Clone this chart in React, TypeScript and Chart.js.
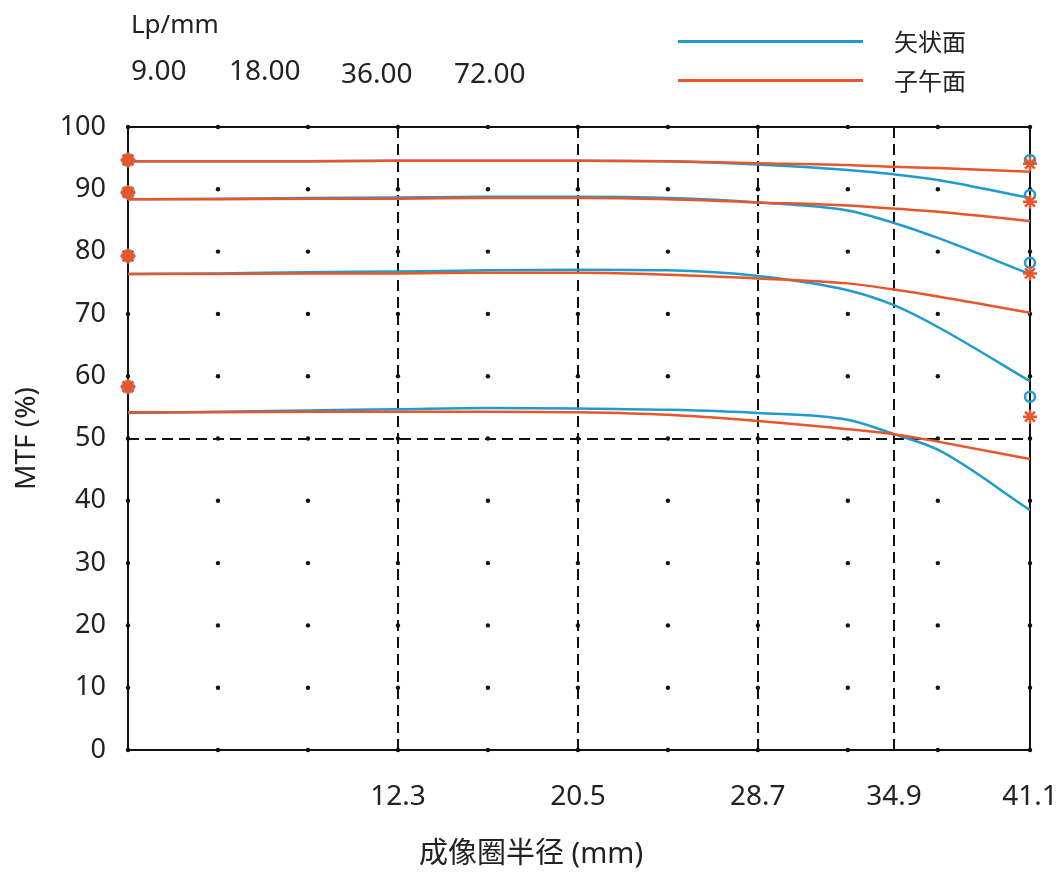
import { useEffect, useRef } from "react";
import { Chart, registerables } from "chart.js";

Chart.register(...registerables);

const FONT = '"Noto Sans", "Noto Sans CJK SC", sans-serif';
const BLUE = "#1f9bcf";   // 矢状面 (sagittal)
const ORANGE = "#e8562a"; // 子午面 (meridional)

// image-circle radius (mm) where each curve is sampled
const radiusMm = [0, 4.1, 8.2, 12.3, 16.4, 20.5, 24.6, 28.7, 32.8, 34.9, 36.9, 41.1];

// MTF (%) per frequency, sagittal / meridional
const sag9 = [94.5, 94.5, 94.5, 94.6, 94.6, 94.6, 94.5, 94.0, 93.1, 92.4, 91.5, 88.6];
const mer9 = [94.5, 94.5, 94.5, 94.6, 94.6, 94.6, 94.5, 94.2, 93.9, 93.6, 93.4, 92.8];
const sag18 = [88.4, 88.5, 88.6, 88.7, 88.8, 88.8, 88.6, 87.9, 86.6, 84.6, 82.2, 76.4];
const mer18 = [88.4, 88.4, 88.5, 88.5, 88.6, 88.6, 88.4, 87.9, 87.4, 86.9, 86.4, 84.9];
const sag36 = [76.4, 76.5, 76.7, 76.8, 77.0, 77.1, 77.0, 76.1, 73.8, 71.4, 67.9, 59.2];
const mer36 = [76.4, 76.4, 76.5, 76.5, 76.6, 76.6, 76.3, 75.7, 74.9, 73.9, 72.8, 70.2];
const sag72 = [54.1, 54.3, 54.5, 54.7, 54.9, 54.8, 54.6, 54.1, 53.0, 50.7, 48.2, 38.5];
const mer72 = [54.2, 54.2, 54.3, 54.3, 54.3, 54.2, 53.8, 52.8, 51.5, 50.7, 49.5, 46.7];

// marker symbols at both edges
const centreMarks = [94.7, 89.5, 79.3, 58.3];
const edgeSagMarks = [94.7, 89.1, 78.2, 56.7];
const edgeMerMarks = [94.1, 88.0, 76.5, 53.5];

const frequencies = ["9.00", "18.00", "36.00", "72.00"];
const xTickValues = [12.3, 20.5, 28.7, 34.9, 41.1];
const dashedX = [12.3, 20.5, 28.7, 34.9];
const dashedY = [50];
const gridX = [0, 4.1, 8.2, 12.3, 16.4, 20.5, 24.6, 28.7, 32.8, 36.9, 41.1];
const gridY = [0, 10, 20, 30, 40, 50, 60, 70, 80, 90, 100];

const pts = (ys: number[]) => ys.map((y, i) => ({ x: radiusMm[i], y }));

// dot grid, dashed reference lines and the frame
const decorPlugin = {
  id: "mtfDecor",
  beforeDatasetsDraw(chart: Chart) {
    const { ctx, chartArea: a } = chart;
    const x = chart.scales.x;
    const y = chart.scales.y;
    ctx.save();
    ctx.fillStyle = "#111";
    for (const gx of gridX) {
      for (const gy of gridY) {
        ctx.beginPath();
        ctx.arc(x.getPixelForValue(gx), y.getPixelForValue(gy), 2.2, 0, Math.PI * 2);
        ctx.fill();
      }
    }
    ctx.strokeStyle = "#111";
    ctx.lineWidth = 2;
    ctx.setLineDash([11, 6]);
    for (const v of dashedX) {
      const px = Math.round(x.getPixelForValue(v));
      ctx.beginPath();
      ctx.moveTo(px, a.top);
      ctx.lineTo(px, a.bottom);
      ctx.stroke();
    }
    for (const v of dashedY) {
      const py = Math.round(y.getPixelForValue(v));
      ctx.beginPath();
      ctx.moveTo(a.left, py);
      ctx.lineTo(a.right, py);
      ctx.stroke();
    }
    ctx.setLineDash([]);
    ctx.strokeRect(a.left, a.top, a.width, a.height);
    ctx.restore();
  },
};

function lineSet(data: number[], color: string) {
  return {
    data: pts(data),
    borderColor: color,
    borderWidth: 2.5,
    pointRadius: 0,
    cubicInterpolationMode: "monotone" as const,
    clip: false as const,
  };
}

function markSet(xVal: number, ys: number[], style: string, color: string, r: number, fill: string) {
  return {
    data: ys.map((v) => ({ x: xVal, y: v })),
    showLine: false,
    pointStyle: style,
    pointRadius: r,
    pointBorderColor: color,
    pointBackgroundColor: fill,
    pointBorderWidth: 2.5,
    borderColor: color,
    clip: false as const,
  };
}

export default function App() {
  const canvasRef = useRef<HTMLCanvasElement>(null);

  useEffect(() => {
    if (!canvasRef.current) return;
    const last = radiusMm[radiusMm.length - 1];
    const chart = new Chart(canvasRef.current, {
      type: "line",
      data: {
        datasets: [
          markSet(0, centreMarks, "star", ORANGE, 7.5, ORANGE),
          markSet(0, centreMarks, "circle", "rgba(150,120,120,0.7)", 6, ORANGE),
          markSet(last, edgeMerMarks, "star", ORANGE, 7, ORANGE),
          markSet(last, edgeSagMarks, "circle", BLUE, 5, "rgba(255,255,255,0)"),
          lineSet(mer9, ORANGE),
          lineSet(mer18, ORANGE),
          lineSet(mer36, ORANGE),
          lineSet(mer72, ORANGE),
          lineSet(sag9, BLUE),
          lineSet(sag18, BLUE),
          lineSet(sag36, BLUE),
          lineSet(sag72, BLUE),
        ] as any,
      },
      options: {
        animation: false,
        responsive: true,
        maintainAspectRatio: false,
        layout: { padding: { top: 127, right: 30, left: 0, bottom: 0 } },
        plugins: { legend: { display: false }, tooltip: { enabled: false } },
        scales: {
          x: {
            type: "linear",
            min: 0,
            max: last,
            grid: { display: false, drawTicks: false },
            border: { display: false },
            afterBuildTicks: (s: any) => {
              s.ticks = xTickValues.map((v) => ({ value: v }));
            },
            afterFit: (s: any) => {
              s.height = 131;
              s.paddingRight = 0; // last label may overhang into the right padding
            },
            ticks: {
              padding: 30,
              color: "#222",
              autoSkip: false,
              maxRotation: 0,
              font: { size: 28, family: FONT },
              callback: (v: any) => Number(v).toFixed(1),
            },
          },
          y: {
            min: 0,
            max: 100,
            grid: { display: false, drawTicks: false },
            border: { display: false },
            afterFit: (s: any) => {
              s.width = 128;
            },
            ticks: { stepSize: 10, padding: 22, color: "#222", font: { size: 27, family: FONT } },
            title: {
              display: true,
              text: "MTF (%)",
              color: "#222",
              font: { size: 28, family: FONT },
              padding: { top: 10, bottom: 0 },
            },
          },
        },
      },
      plugins: [decorPlugin],
    });
    return () => chart.destroy();
  }, []);

  const text = { position: "absolute" as const, lineHeight: 1, color: "#222", fontFamily: FONT, whiteSpace: "nowrap" as const };
  const freqLeft = [131, 229, 341, 454];
  const freqTop = [55, 55, 58, 58];

  return (
    <div style={{ position: "fixed", left: 0, top: 0, width: 1060, height: 881, background: "#fff" }}>
      <canvas ref={canvasRef} />
      <div style={{ ...text, left: 131, top: 10, fontSize: 26 }}>Lp/mm</div>
      {frequencies.map((f, i) => (
        <div key={f} style={{ ...text, left: freqLeft[i], top: freqTop[i], fontSize: 28 }}>{f}</div>
      ))}
      <div style={{ position: "absolute", left: 678, top: 40, width: 185, height: 2.5, background: BLUE }} />
      <div style={{ position: "absolute", left: 678, top: 79, width: 185, height: 2.5, background: ORANGE }} />
      <div style={{ ...text, left: 894, top: 30, fontSize: 24 }}>矢状面</div>
      <div style={{ ...text, left: 894, top: 69, fontSize: 24 }}>子午面</div>
      <div style={{ ...text, left: 531, top: 837, fontSize: 29, transform: "translateX(-50%)" }}>成像圈半径 (mm)</div>
    </div>
  );
}
